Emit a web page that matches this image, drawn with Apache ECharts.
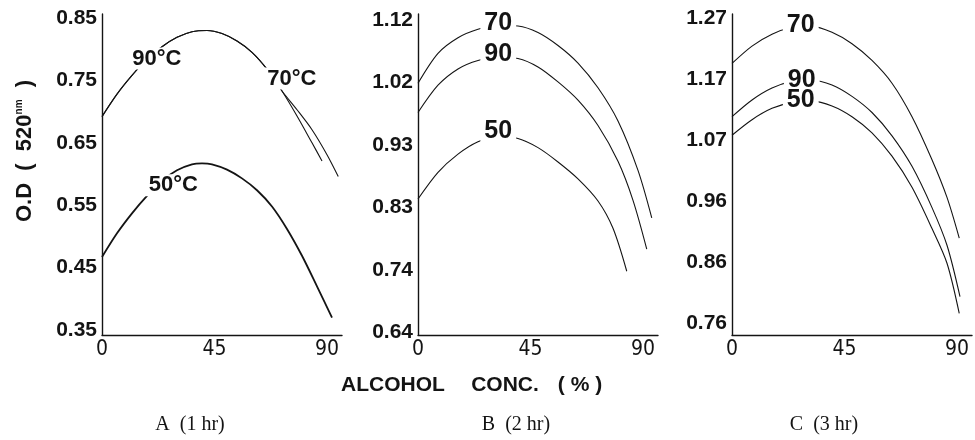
<!DOCTYPE html>
<html>
<head>
<meta charset="utf-8">
<script src="https://cdn.jsdelivr.net/npm/echarts@6/dist/echarts.min.js"></script>
<style>
html,body{margin:0;padding:0;background:#fff;}
#c{width:975px;height:440px;}
</style>
</head>
<body>
<div id="c"></div>
<script>
// ---- data ----
const xTicks = [0, 45, 90];
const yTicksA = [0.35, 0.45, 0.55, 0.65, 0.75, 0.85];
const yTicksB = [0.64, 0.736, 0.832, 0.928, 1.024, 1.12];
const yTicksC = [0.76, 0.862, 0.964, 1.066, 1.168, 1.27];

// Panel A (1 hr)
const a90 = [[0,0.692],[6,0.728],[12,0.758],[18,0.784],[24,0.804],[30,0.819],[36,0.828],[42,0.830],[48,0.825],[54,0.813],[60,0.795],[66,0.768],[72,0.733],[78,0.693],[84,0.650],[88,0.621]];
const a70 = [[0,0.692],[6,0.728],[12,0.758],[18,0.784],[24,0.804],[30,0.819],[36,0.828],[42,0.830],[48,0.825],[54,0.813],[60,0.795],[66,0.768],[72,0.733],[78,0.703],[84,0.671],[90,0.631],[94.5,0.596]];
const a50 = [[0,0.467],[6,0.505],[12,0.537],[18,0.565],[24,0.589],[30,0.606],[36,0.6155],[40,0.617],[44,0.6155],[50,0.607],[56,0.593],[62,0.574],[68,0.548],[74,0.512],[80,0.469],[86,0.420],[92,0.370]];

// Panel B (2 hr)
const b70 = [[0,1.023],[8,1.069],[16,1.093],[24,1.106],[32,1.112],[40,1.111],[48,1.101],[56,1.081],[64,1.054],[72,1.016],[80,0.965],[88,0.889],[93.5,0.816]];
const b90 = [[0,0.978],[8,1.020],[16,1.045],[24,1.058],[32,1.063],[40,1.061],[48,1.048],[56,1.025],[64,0.997],[72,0.958],[80,0.903],[86,0.843],[91.5,0.768]];
const b50 = [[0,0.845],[8,0.886],[16,0.914],[24,0.933],[32,0.941],[40,0.938],[48,0.924],[56,0.902],[64,0.876],[72,0.842],[78,0.800],[83.5,0.734]];

// Panel C (3 hr)
const c70 = [[0,1.194],[8,1.223],[16,1.243],[24,1.254],[32,1.256],[40,1.246],[48,1.227],[56,1.199],[64,1.161],[72,1.105],[80,1.033],[86,0.970],[90.9,0.902]];
const c90 = [[0,1.105],[8,1.133],[16,1.153],[24,1.164],[32,1.166],[40,1.158],[48,1.139],[56,1.112],[64,1.073],[72,1.022],[80,0.953],[86,0.890],[91.2,0.804]];
const c50 = [[0,1.074],[8,1.100],[16,1.119],[24,1.129],[32,1.131],[40,1.123],[48,1.105],[56,1.078],[64,1.039],[72,0.987],[80,0.918],[86,0.860],[90.9,0.776]];

// curve labels: [text, x, y]
const labelsA = [['90°C', 21.9, 0.785], ['70°C', 75.9, 0.753], ['50°C', 28.5, 0.582]];
const labelsB = [['70', 32.1, 1.116], ['90', 32.1, 1.068], ['50', 32.1, 0.949]];
const labelsC = [['70', 27.5, 1.258], ['90', 27.9, 1.167], ['50', 27.5, 1.133]];

// ---- chart ----
const chart = echarts.init(document.getElementById('c'), null, {renderer: 'canvas'});
const INK = '#141414';
const grids = [
  {left: 102, top: 14, width: 240, height: 321},
  {left: 418, top: 14, width: 240, height: 321},
  {left: 732, top: 14, width: 240, height: 321}
];
const yRanges = [[0.342, 0.8564], [0.636, 1.1294], [0.740, 1.2767]];
const yTicks = [yTicksA, yTicksB, yTicksC];

const xAxes = grids.map((g, i) => ({
  type: 'value', gridIndex: i, min: 0, max: 96,
  axisLine: {show: true, onZero: false, lineStyle: {color: INK, width: 1.4}},
  axisTick: {show: false},
  splitLine: {show: false},
  axisLabel: {
    customValues: xTicks, color: INK, fontSize: 21, margin: 4,
    fontFamily: '"Liberation Sans Narrow", "DejaVu Sans Condensed", "Liberation Sans", sans-serif'
  }
}));
const yAxes = grids.map((g, i) => ({
  type: 'value', gridIndex: i, min: yRanges[i][0], max: yRanges[i][1],
  axisLine: {show: true, onZero: false, lineStyle: {color: INK, width: 1.4}},
  axisTick: {show: false},
  splitLine: {show: false},
  axisLabel: {
    customValues: yTicks[i], color: INK, fontSize: 21, fontWeight: 'bold', margin: 5,
    fontFamily: '"Liberation Sans", Arial, sans-serif',
    formatter: v => Number(v).toFixed(2)
  }
}));

function curve(data, gi, width) {
  return {
    type: 'line', xAxisIndex: gi, yAxisIndex: gi, data: data,
    smooth: 0.3, showSymbol: false, symbol: 'none', silent: true,
    lineStyle: {color: INK, width: width || 1.1},
    z: 2
  };
}
function labelSeries(labels, gi, fs) {
  return {
    type: 'scatter', xAxisIndex: gi, yAxisIndex: gi, silent: true,
    symbolSize: 1, itemStyle: {color: '#fff', opacity: 1},
    data: labels.map(l => ({value: [l[1], l[2]], name: l[0]})),
    label: {
      show: true, position: 'inside', formatter: p => p.name,
      color: INK, fontSize: fs, fontWeight: 'bold', opacity: 1,
      fontFamily: '"Liberation Sans", Arial, sans-serif',
      backgroundColor: '#fff', padding: [0, 4]
    },
    z: 5
  };
}

const captionFont = '20px "Liberation Serif", "DejaVu Serif", serif';
const option = {
  animation: false,
  backgroundColor: '#fff',
  grid: grids,
  xAxis: xAxes,
  yAxis: yAxes,
  series: [
    curve(a90, 0), curve(a70, 0), curve(a50, 0, 1.8),
    curve(b70, 1), curve(b90, 1), curve(b50, 1),
    curve(c70, 2), curve(c90, 2), curve(c50, 2),
    labelSeries(labelsA, 0, 22), labelSeries(labelsB, 1, 25), labelSeries(labelsC, 2, 25)
  ],
  graphic: [
    {
      type: 'text', x: 25, y: 151, rotation: Math.PI / 2,
      style: {
        text: 'O.D  (  520{s|nm}  )',
        fill: INK, align: 'center', verticalAlign: 'middle',
        font: 'bold 22px "Liberation Sans", Arial, sans-serif',
        rich: {s: {fontSize: 10, fontWeight: 'bold', verticalAlign: 'top', padding: [0, 0, 9, 0], fill: INK}}
      }
    },
    {type: 'text', x: 393, y: 385, style: {text: 'ALCOHOL', fill: INK, align: 'center', verticalAlign: 'middle', font: 'bold 21px "Liberation Sans", sans-serif'}},
    {type: 'text', x: 505, y: 385, style: {text: 'CONC.', fill: INK, align: 'center', verticalAlign: 'middle', font: 'bold 21px "Liberation Sans", sans-serif'}},
    {type: 'text', x: 580, y: 385, style: {text: '( % )', fill: INK, align: 'center', verticalAlign: 'middle', font: 'bold 21px "Liberation Sans", sans-serif'}},
    {type: 'text', x: 190, y: 425, style: {text: 'A  (1 hr)', fill: INK, align: 'center', verticalAlign: 'middle', font: captionFont}},
    {type: 'text', x: 516, y: 425, style: {text: 'B  (2 hr)', fill: INK, align: 'center', verticalAlign: 'middle', font: captionFont}},
    {type: 'text', x: 824, y: 425, style: {text: 'C  (3 hr)', fill: INK, align: 'center', verticalAlign: 'middle', font: captionFont}}
  ]
};
chart.setOption(option);
</script>
</body>
</html>
